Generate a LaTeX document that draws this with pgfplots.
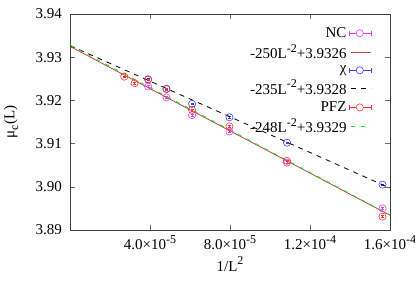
\documentclass[border=0pt]{standalone}
\usepackage{pgfplots}
\pgfplotsset{compat=1.18}
\usepackage{pgfplotstable}
\usepackage{fontspec}
\setmainfont{Liberation Serif}
\newcommand\bigfnt{\fontsize{15}{17}\selectfont}
\newcommand\sups[1]{\raisebox{0.42em}{\fontsize{12}{12}\selectfont #1}}
\newcommand\subs[1]{\raisebox{-0.25em}{\fontsize{12}{12}\selectfont #1}}
\definecolor{cnc}{RGB}{240,60,240}
\definecolor{cchi}{RGB}{60,60,250}
\definecolor{cpfz}{RGB}{250,50,50}
\definecolor{cfit}{RGB}{185,70,70}
\definecolor{cgreen}{RGB}{20,230,20}
\pgfplotstableread{
x y e
3.90625e-5 3.9232 0.0002
4.82253e-5 3.9207 0.0002
6.10352e-5 3.9166 0.0002
7.97194e-5 3.9128 0.0002
1.08507e-4 3.9056 0.0002
1.5625e-4 3.8950 0.0002
}\tabnc
\pgfplotstableread{
x y e
3.90625e-5 3.9249 0.0002
4.82253e-5 3.9227 0.0002
6.10352e-5 3.9192 0.0002
7.97194e-5 3.9161 0.0002
1.08507e-4 3.9102 0.0002
1.5625e-4 3.9005 0.0002
}\tabchi
\pgfplotstableread{
x y e
2.71267e-5 3.9255 0.0002
3.22831e-5 3.9240 0.0002
3.90625e-5 3.9248 0.0002
4.82253e-5 3.9226 0.0002
6.10352e-5 3.9178 0.0002
7.97194e-5 3.9140 0.0002
1.08507e-4 3.9060 0.0002
1.5625e-4 3.8931 0.0002
}\tabpfz
\begin{document}
\bigfnt
\begin{tikzpicture}
\useasboundingbox (-70pt,-61pt) rectangle (345pt,230pt);
\begin{axis}[
  at={(0,0)}, anchor=south west,
  scale only axis, width=320pt, height=216pt,
  xmin=0, xmax=1.6e-4, ymin=3.89, ymax=3.94,
  axis line style={black!75},
  every tick/.style={black!60},
  tick align=inside, major tick length=5pt,
  xtick={4e-5,8e-5,1.2e-4,1.6e-4},
  xticklabels={4.0×10\sups{-5},8.0×10\sups{-5},1.2×10\sups{-4},1.6×10\sups{-4}},
  scaled x ticks=false,
  ytick={3.89,3.90,3.91,3.92,3.93,3.94},
  yticklabel style={/pgf/number format/fixed,/pgf/number format/precision=2,/pgf/number format/fixed zerofill, xshift=-3pt},
  /pgf/number format/assume math mode=true,
  tick label style={font=\bigfnt},
  label style={font=\bigfnt},
  xlabel={1/L\sups{2}},
  ylabel={μ\subs{c}(L)},
  xlabel style={yshift=3pt},
  ylabel style={yshift=7pt},
  legend cell align=right,
  legend plot pos=right,
  legend style={draw=none, fill=none, at={(rel axis cs:0.945,0.952)}, anchor=north east,
    font=\bigfnt, nodes={font=\bigfnt, inner ysep=1.5pt}, row sep=2pt, inner sep=1pt},
  every axis plot/.append style={line width=0.8pt},
]
\pgfplotsset{
  errleg/.style={legend image code/.code={
    \draw[##1, line width=0.6pt] (0pt,0pt) -- (22pt,0pt);
    \draw[##1, line width=0.6pt] (0pt,-2.5pt) -- (0pt,2.5pt);
    \draw[##1, line width=0.6pt] (22pt,-2.5pt) -- (22pt,2.5pt);
    \draw[##1, line width=0.6pt, fill=white] (11pt,0pt) circle (3.6pt);
  }},
  lineleg/.style={legend image code/.code={
    \draw[##1] (2pt,0pt) -- (22pt,0pt);
  }},
  pts/.style={only marks, mark=o, mark size=3.6pt, mark options={line width=0.6pt},
    error bars/y dir=both, error bars/y explicit,
    error bars/error mark options={rotate=90, mark size=1.5pt, line width=0.5pt},
    error bars/error bar style={line width=0.5pt}},
}
\addplot[color=cnc, pts, errleg] table[x=x, y=y, y error=e]{\tabnc};
\addlegendentry{\bigfnt NC}
\addplot[color=cfit, solid, lineleg] coordinates {(0,3.9325) (1.6e-4,3.8934)};
\addlegendentry{\bigfnt -250L\sups{-2}+3.9326}
\addplot[color=cchi, pts, errleg] table[x=x, y=y, y error=e]{\tabchi};
\addlegendentry{\bigfnt χ}
\addplot[color=black, dash pattern=on 5pt off 5pt, lineleg] coordinates {(0,3.9327) (1.6e-4,3.8997)};
\addlegendentry{\bigfnt -235L\sups{-2}+3.9328}
\addplot[color=cpfz, pts, errleg] table[x=x, y=y, y error=e]{\tabpfz};
\addlegendentry{\bigfnt PFZ}
\addplot[color=cgreen, dash pattern=on 4pt off 6pt, lineleg] coordinates {(0,3.9328) (1.6e-4,3.8935)};
\addlegendentry{\bigfnt -248L\sups{-2}+3.9329}
\end{axis}
\end{tikzpicture}
\end{document}
